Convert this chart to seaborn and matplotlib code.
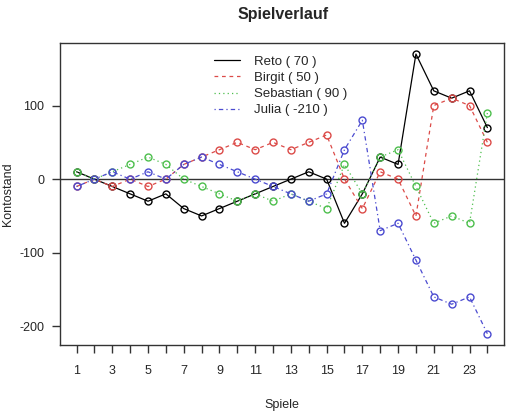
import numpy as np
import pandas as pd
import seaborn as sns
import matplotlib.pyplot as plt
from matplotlib.lines import Line2D

# --- Daten ---
spiele = list(range(1, 25))
spieler = ["Reto", "Birgit", "Sebastian", "Julia"]
reto = [10, 0, -10, -20, -30, -20, -40, -50, -40, -30, -20, -10,
        0, 10, 0, -60, -20, 30, 20, 170, 120, 110, 120, 70]
birgit = [-10, 0, -10, 0, -10, 0, 20, 30, 40, 50, 40, 50,
          40, 50, 60, 0, -40, 10, 0, -50, 100, 110, 100, 50]
sebastian = [10, 0, 10, 20, 30, 20, 0, -10, -20, -30, -20, -30,
             -20, -30, -40, 20, -20, 30, 40, -10, -60, -50, -60, 90]
julia = [-10, 0, 10, 0, 10, 0, 20, 30, 20, 10, 0, -10,
         -20, -30, -20, 40, 80, -70, -60, -110, -160, -170, -160, -210]
x_labels = [str(s) if s % 2 == 1 else "" for s in spiele]
y_ticks = [-200, -100, 0, 100]

# --- Stil ---
sns.set_style("white")
plt.rcParams["font.family"] = ["Liberation Sans", "DejaVu Sans"]
plt.rcParams["axes.unicode_minus"] = False

farben = ["black", "#DC4B48", "#4DBF4D", "#4B4BD0"]
linien = ["-", (0, (3, 3)), (0, (1, 2.5)), (0, (1, 2.5, 3.5, 2.5))]
werte = [reto, birgit, sebastian, julia]

fig = plt.figure(figsize=(5.32, 4.16), dpi=100)
ax = fig.add_axes([0.113, 0.171, 0.834, 0.726])

for name, y, c, ls in zip(spieler, werte, farben, linien):
    df = pd.DataFrame({"Spiel": spiele, "Kontostand": y})
    sns.lineplot(data=df, x="Spiel", y="Kontostand", ax=ax, color=c,
                 linestyle=ls, linewidth=0.9, marker="o", markersize=5,
                 markerfacecolor="none", markeredgecolor=c,
                 markeredgewidth=1.0, legend=False)

ax.axhline(0, color="#333333", linewidth=1.0, zorder=0)

ax.set_xlim(0.08, 24.92)
ax.set_ylim(-225.2, 185.2)
ax.set_xticks(spiele)
ax.set_xticklabels(x_labels)
ax.set_yticks(y_ticks)
ax.tick_params(axis="both", direction="out", length=5.5, width=1.0,
               color="#333333", labelsize=9, pad=6, left=True, bottom=True)
ax.tick_params(axis="x", pad=9)
for sp in ax.spines.values():
    sp.set_color("#333333")
    sp.set_linewidth(1.0)

ax.set_xlabel("Spiele", fontsize=9, labelpad=16)
ax.set_ylabel("Kontostand", fontsize=9, labelpad=4)
fig.suptitle("Spielverlauf", fontsize=11.5, fontweight="bold", x=0.532, y=0.982)

# Legende
handles = [Line2D([], [], color=c, linestyle=ls, linewidth=0.9)
           for c, ls in zip(farben, linien)]
labels = [f"{n} ( {w[-1]} )" for n, w in zip(spieler, werte)]
ax.legend(handles, labels, loc="upper left", bbox_to_anchor=(0.335, 0.975),
          frameon=False, fontsize=9.5, handlelength=2.0, handletextpad=1.0,
          labelspacing=0.3, borderaxespad=0)

fig.savefig("out.png", dpi=100)
